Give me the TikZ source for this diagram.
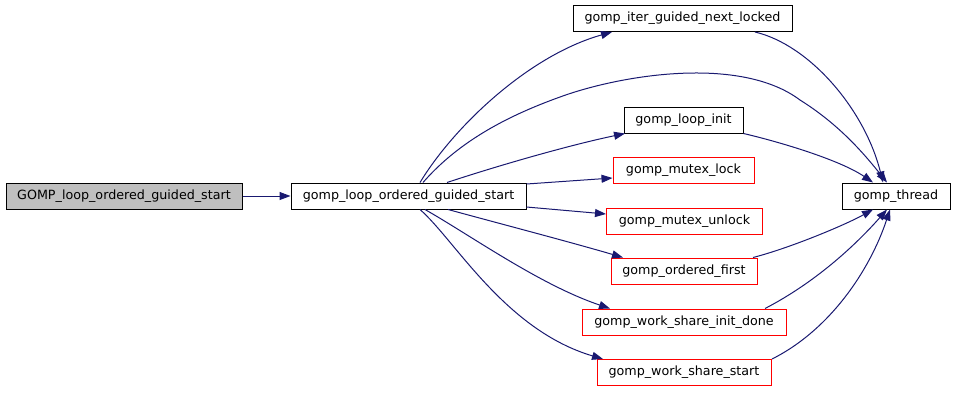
\documentclass[tikz,border=0pt]{standalone}
\usepackage{fontspec}
\setmainfont{DejaVu Sans}
\usetikzlibrary{arrows.meta}
\definecolor{edgeblue}{HTML}{191970}
\definecolor{boxgray}{HTML}{BFBFBF}
\tikzset{
  box/.style={draw=black, line width=1pt, minimum height=26pt, inner sep=0pt, font=\fontsize{12.7}{14}\selectfont, anchor=center},
  redbox/.style={box, draw=red},
  graybox/.style={box, fill=boxgray},
  edge/.style={draw=edgeblue, line width=1pt, -{Triangle[length=11pt,width=8pt]}},
}
\begin{document}
\begin{tikzpicture}[x=1pt,y=-1pt]
\useasboundingbox (0,0) rectangle (955,392);
\node[graybox, minimum width=236pt] (n1) at (124,196) {GOMP\_loop\_ordered\_guided\_start};
\node[box, minimum width=235pt] (n2) at (408.5,196) {gomp\_loop\_ordered\_guided\_start};
\node[box, minimum width=219pt] (nl) at (682.5,18.5) {gomp\_iter\_guided\_next\_locked};
\node[box, minimum width=119pt] (li) at (683.5,120) {gomp\_loop\_init};
\node[redbox, minimum width=141pt] (ml) at (683.5,170.5) {gomp\_mutex\_lock};
\node[redbox, minimum width=156pt] (mu) at (684.5,221) {gomp\_mutex\_unlock};
\node[redbox, minimum width=146pt] (of) at (684,271) {gomp\_ordered\_first};
\node[redbox, minimum width=204pt] (wi) at (684,322) {gomp\_work\_share\_init\_done};
\node[redbox, minimum width=174pt] (ws) at (684,372.5) {gomp\_work\_share\_start};
\node[box, minimum width=108pt] (th) at (896,196) {gomp\_thread};

\draw[edge] (n1.east) -- (n2.west);
% to next_locked
\draw[edge] ([xshift=11.5pt]n2.north) .. controls (455,125) and (530,55) .. ([xshift=-70.5pt]nl.south);
% top curve to thread
\draw[edge] ([xshift=14.5pt]n2.north) .. controls (460,140) and (510,115) .. (560,97)
  .. controls (620,75) and (740,55) .. (800,100)
  .. controls (840,125) and (865,155) .. ([xshift=-9pt]th.north);
\draw[edge] ([xshift=72.5pt]nl.south) .. controls (810,45) and (865,110) .. ([xshift=-13pt]th.north);
% loop_init
\draw[edge] ([xshift=38.5pt]n2.north) .. controls (500,165) and (570,145) .. ([xshift=-58.5pt]li.south);
\draw[edge] (li.south east) .. controls (780,142) and (840,160) .. ([xshift=-23pt]th.north);
% mutex
\draw[edge] ([yshift=12pt]n2.east) -- ([yshift=-7.5pt]ml.west);
\draw[edge] ([yshift=-11pt]n2.east) -- ([yshift=7pt]mu.west);
% ordered_first
\draw[edge] ([xshift=39.5pt]n2.south) .. controls (505,225) and (570,242) .. ([xshift=-61pt]of.north);
\draw[edge] ([xshift=69pt]of.north) .. controls (790,248) and (845,225) .. ([xshift=-23pt]th.south);
% init_done
\draw[edge] ([xshift=16.5pt]n2.south) .. controls (470,235) and (540,285) .. ([xshift=-74pt]wi.north);
\draw[edge] ([xshift=81pt]wi.north) .. controls (820,280) and (860,240) .. ([xshift=-9pt]th.south);
% share_start
\draw[edge] ([xshift=11.5pt]n2.south) .. controls (455,240) and (505,330) .. ([xshift=-81pt]ws.north);
\draw[edge] ([xshift=88pt]ws.north) .. controls (830,330) and (870,270) .. ([xshift=-6pt]th.south);
\end{tikzpicture}
\end{document}
